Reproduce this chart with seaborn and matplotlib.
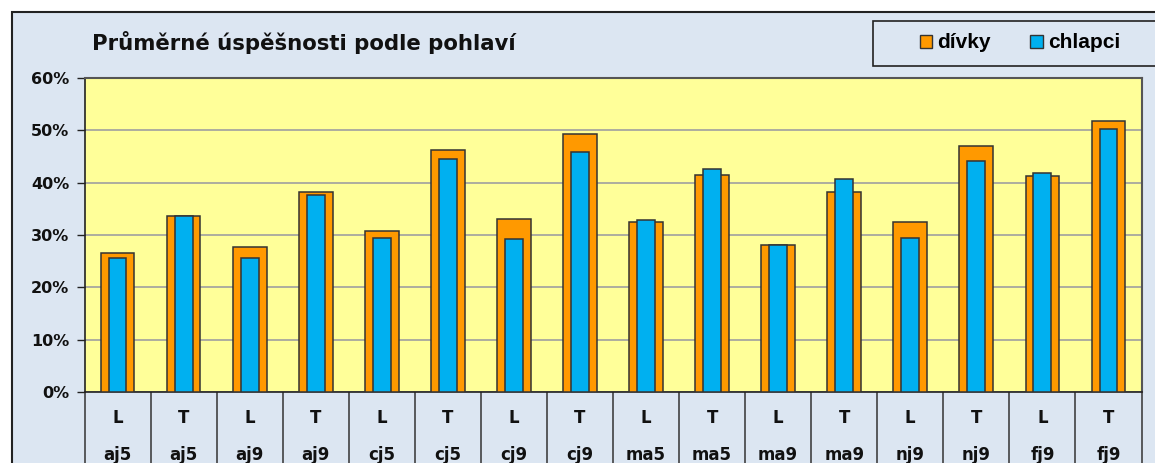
import numpy as np
import pandas as pd
import matplotlib
matplotlib.use("Agg")
import matplotlib.pyplot as plt
import matplotlib.transforms as mtransforms
from matplotlib.patches import Patch, Rectangle
from matplotlib.ticker import FuncFormatter
import seaborn as sns

# data (percent)
typy = ["L", "T", "L", "T", "L", "T", "L", "T", "L", "T", "L", "T", "L", "T", "L", "T"]
predmety = ["aj5", "aj5", "aj9", "aj9", "cj5", "cj5", "cj9", "cj9",
            "ma5", "ma5", "ma9", "ma9", "nj9", "nj9", "fj9", "fj9"]
divky = [26.5, 33.6, 27.7, 38.2, 30.8, 46.3, 33.1, 49.2,
         32.5, 41.4, 28.0, 38.2, 32.5, 47.0, 41.2, 51.7]
chlapci = [25.7, 33.6, 25.7, 37.7, 29.4, 44.5, 29.2, 45.8,
           32.9, 42.6, 28.0, 40.6, 29.4, 44.1, 41.9, 50.2]

ORANGE = "#FF9900"
BLUE = "#00B0F0"
PLOT_BG = "#FFFF99"
CHART_BG = "#DCE6F2"
EDGE = "#333333"

df = pd.DataFrame({
    "kat": [f"{t} {p}" for t, p in zip(typy, predmety)],
    "divky": divky,
    "chlapci": chlapci,
})
order = list(df["kat"])

plt.rcParams["font.family"] = ["DejaVu Sans"]

fig = plt.figure(figsize=(11.55, 4.63), dpi=100)
fig.patch.set_facecolor("white")

# chart area background with border
fig.patches.append(Rectangle((12 / 1155, -0.1), 1.2, 1.1 - 12 / 463,
                             transform=fig.transFigure, facecolor=CHART_BG,
                             edgecolor="#222222", linewidth=1.5, zorder=-2))

ax = fig.add_axes([84.5 / 1155, (463 - 392.3) / 463, (1141.5 - 84.5) / 1155, 314.6 / 463])
ax.set_zorder(2)
ax.set_facecolor(PLOT_BG)

sns.barplot(data=df, x="kat", y="divky", order=order, color=ORANGE, saturation=1,
            width=0.51, edgecolor=EDGE, linewidth=1.1, errorbar=None, ax=ax, zorder=3)
sns.barplot(data=df, x="kat", y="chlapci", order=order, color=BLUE, saturation=1,
            width=0.27, edgecolor=EDGE, linewidth=1.1, errorbar=None, ax=ax, zorder=4)

ax.set_xlim(-0.5, len(order) - 0.5)
ax.set_ylim(0, 60)
ax.set_yticks(np.arange(0, 61, 10))
ax.yaxis.set_major_formatter(FuncFormatter(lambda v, _: f"{v:.0f}%"))
ax.tick_params(axis="y", length=6, width=1, color="#222222", pad=5,
               labelsize=11.5, labelcolor="#111111")
for lab in ax.get_yticklabels():
    lab.set_fontweight("bold")
ax.tick_params(axis="x", length=0, labelbottom=False)
ax.set_xlabel("")
ax.set_ylabel("")
ax.grid(axis="y", color="#A0A0A0", linewidth=1.2)
ax.set_axisbelow(True)

for side in ["top", "right"]:
    ax.spines[side].set_color("#555555")
    ax.spines[side].set_linewidth(1.5)
for side in ["left", "bottom"]:
    ax.spines[side].set_color("#222222")
    ax.spines[side].set_linewidth(1.2)

# category table below the axis
trans = mtransforms.blended_transform_factory(ax.transData, ax.transAxes)
ax.vlines(np.arange(len(order) + 1) - 0.5, -0.3, 0, transform=trans,
          colors="#333333", linewidth=1.1, clip_on=False)
for i, (t, p) in enumerate(zip(typy, predmety)):
    ax.text(i, -0.082, t, transform=trans, ha="center", va="center",
            fontsize=12, fontweight="bold", color="#111111")
    ax.text(i, -0.2, p, transform=trans, ha="center", va="center",
            fontsize=12, fontweight="bold", color="#111111")

fig.text(92 / 1155, 1 - 42 / 463, "Průměrné úspěšnosti podle pohlaví",
         ha="left", va="center", fontsize=15.3, fontweight="bold", color="#111111")

# legend box
fig.patches.append(Rectangle((873 / 1155, 1 - 66 / 463), 0.4, 45 / 463,
                             transform=fig.transFigure, facecolor=CHART_BG,
                             edgecolor="#222222", linewidth=1.2, zorder=-1))
handles = [Patch(facecolor=ORANGE, edgecolor=EDGE, label="dívky"),
           Patch(facecolor=BLUE, edgecolor=EDGE, label="chlapci")]
fig.legend(handles=handles, loc="center", bbox_to_anchor=(1020 / 1155, 1 - 43 / 463),
           ncol=2, frameon=False, handlelength=0.6, handleheight=0.6,
           handletextpad=0.25, columnspacing=1.9,
           prop={"family": "Liberation Sans", "weight": "bold", "size": 15})

fig.savefig("out.png", dpi=100, facecolor=fig.get_facecolor())
